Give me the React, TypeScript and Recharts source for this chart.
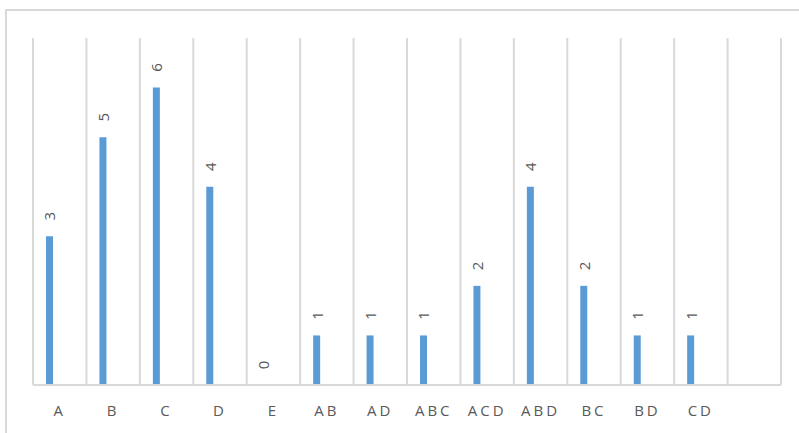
import React from "react";
import { BarChart, Bar, XAxis, YAxis, CartesianGrid, LabelList } from "recharts";

// categories (last one is the empty slot at the right end)
const categories = ["A", "B", "C", "D", "E", "AB", "AD", "ABC", "ACD", "ABD", "BC", "BD", "CD", ""];
const counts = [3, 5, 6, 4, 0, 1, 1, 1, 2, 4, 2, 1, 1, null];

const data = categories.map((name, i) => ({ name, count: counts[i] }));

const GRID = "#d9d9d9";
const TEXT = "#595959";
const FONT = "'Open Sans', sans-serif";

// rotated value label above each bar
const renderLabel = (props: any) => {
  const { x, y, width, value } = props;
  if (value === null || value === undefined) return null;
  const cx = Number(x) + Number(width) / 2;
  const cy = Number(y) - 20;
  return (
    <text
      x={cx}
      y={cy}
      transform={`rotate(-90 ${cx} ${cy})`}
      textAnchor="middle"
      dominantBaseline="central"
      fill={TEXT}
      fontSize={15}
      fontFamily={FONT}
    >
      {value}
    </text>
  );
};

// grid lines on category boundaries, not centers
const boundaryLines = ({ offset }: any) => {
  const n = categories.length;
  const lines: number[] = [];
  for (let i = 0; i <= n; i++) lines.push(offset.left + (i * offset.width) / n);
  return lines;
};

export default function App() {
  return (
    <div
      style={{
        position: "absolute",
        left: 0,
        top: 0,
        width: 799,
        height: 433,
        overflow: "hidden",
        background: "#fff",
      }}
    >
      <div
        style={{
          position: "absolute",
          left: 5,
          top: 9,
          width: 900,
          height: 600,
          border: `2px solid ${GRID}`,
        }}
      />
      <div style={{ position: "absolute", left: 0, top: 0 }}>
        <BarChart
          width={799}
          height={433}
          data={data}
          margin={{ top: 38, right: 18, left: 33, bottom: 18 }}
          barCategoryGap={13}
          barGap={0}
        >
          <CartesianGrid
            horizontal={false}
            stroke={GRID}
            strokeWidth={2}
            verticalCoordinatesGenerator={boundaryLines}
          />
          <XAxis
            dataKey="name"
            height={30}
            tickSize={0}
            tickMargin={20}
            interval={0}
            axisLine={{ stroke: GRID, strokeWidth: 2 }}
            tick={{ fill: TEXT, fontSize: 15, fontFamily: FONT, letterSpacing: 3 }}
          />
          <YAxis hide domain={[0, 7]} />
          <Bar dataKey="count" fill="#5b9bd5" minPointSize={0.01} isAnimationActive={false}>
            <LabelList dataKey="count" content={renderLabel} />
          </Bar>
          {/* empty series that share the slot, as in the source chart */}
          <Bar dataKey="s2" fill="#ed7d31" isAnimationActive={false} />
          <Bar dataKey="s3" fill="#a5a5a5" isAnimationActive={false} />
          <Bar dataKey="s4" fill="#ffc000" isAnimationActive={false} />
        </BarChart>
      </div>
    </div>
  );
}
